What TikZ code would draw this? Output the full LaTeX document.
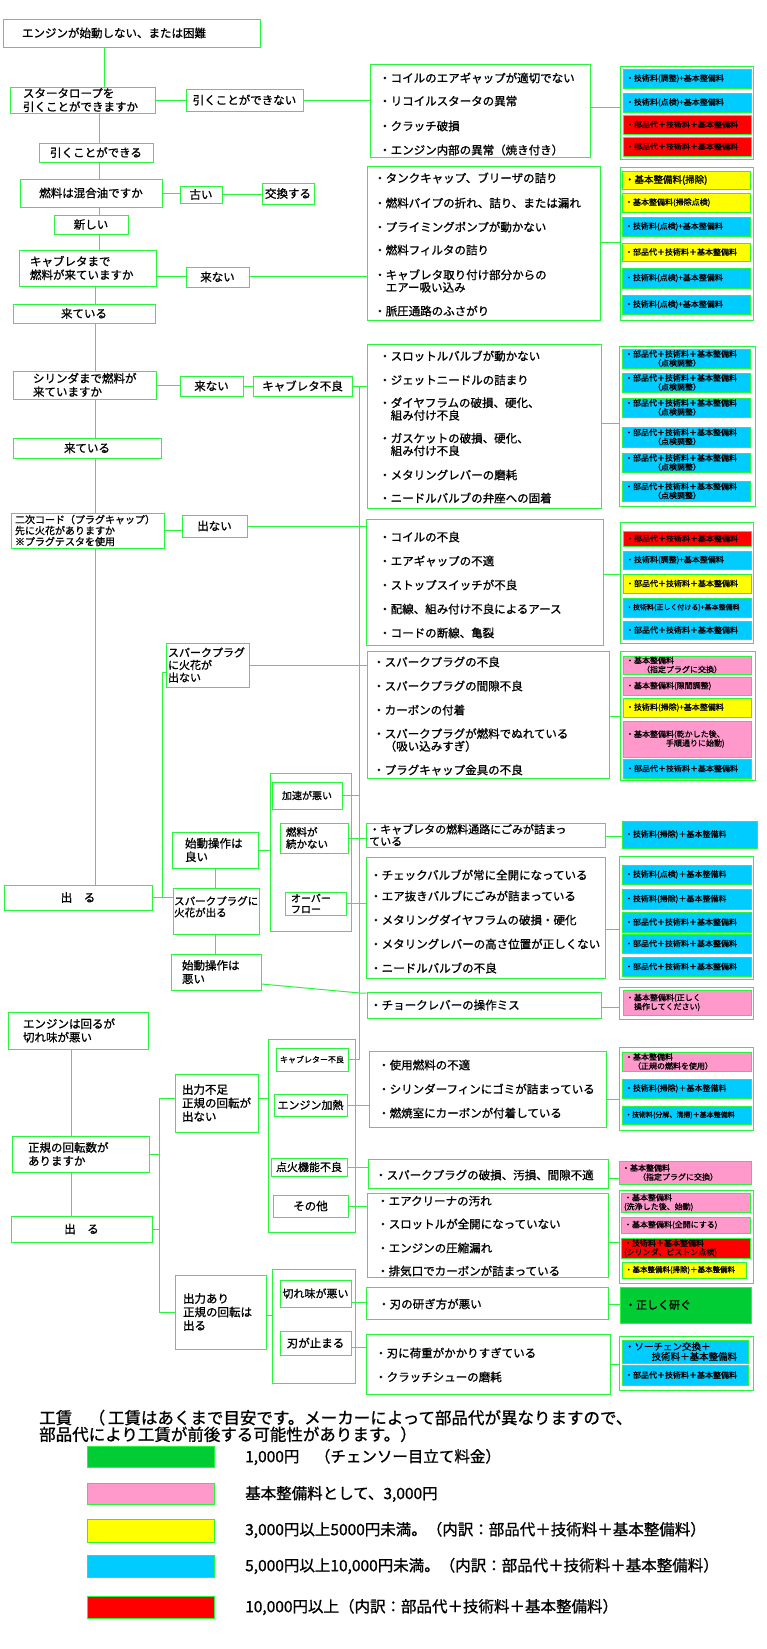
\documentclass[tikz,border=0pt]{standalone}
\usepackage{fontspec}
\setmainfont{Noto Sans CJK JP}[RawFeature={embolden=1}]
\usetikzlibrary{calc}
\definecolor{G}{RGB}{40,245,60}
\definecolor{cy}{RGB}{0,204,255}
\definecolor{rd}{RGB}{255,0,0}
\definecolor{yl}{RGB}{255,255,0}
\definecolor{pk}{RGB}{255,153,204}
\definecolor{gn}{RGB}{0,204,51}
\tikzset{
 box/.style={draw=G, line width=1pt, inner sep=0pt, align=left, font=\fontsize{11.5}{13.5}\selectfont},
 swb/.style={draw=G, line width=1pt, inner xsep=3pt, inner ysep=0pt, align=left, font=\fontsize{8}{9}\selectfont},
 itm/.style={anchor=west, inner sep=0pt, align=left, font=\fontsize{11.5}{12.5}\selectfont},
 lg/.style={anchor=west, inner sep=0pt, align=left, font=\fontsize{15.5}{16}\selectfont},
 con/.style={draw=G, line width=1pt},
}
\newcounter{tn}
\newcommand\bx[7][]{\node[box,minimum width={(#5-#3)*1pt},minimum height={(#6-#4)*1pt},#1] (#2) at ({(#3+#5)/2},{(#4+#6)/2}) {#7};}
\newcommand\lbx[8][]{\node[box,minimum height={(#6-#4)*1pt},inner xsep=#7pt,text width={(#5-#3-2*#7)*1pt},#1] (#2) at ({(#3+#5)/2},{(#4+#6)/2}) {#8};}
\newcommand\sw[8][]{\node[swb,fill=#7,minimum width={(#5-#3)*1pt},minimum height={(#6-#4)*1pt},text width={(#5-#3-6)*1pt},#1] (#2) at ({(#3+#5)/2},{(#4+#6)/2}) {#8};}
\newcommand\tx[4][]{\stepcounter{tn}\edef\tnm{t\arabic{tn}}\node[itm,#1] (\tnm) at (#2,#3) {#4};}
\newcommand\hc[3]{\draw[con] (#1.east |- 0,#3) -- (#2.west |- 0,#3);}
\begin{document}
\begin{tikzpicture}[x=1pt,y=-1pt]
\useasboundingbox (0,0) rectangle (767,1649);
\fill[white] (0,0) rectangle (767,1649);
% ---------------- top
\lbx{n1}{3}{19}{260}{47}{19}{エンジンが始動しない、または困難}
\lbx{n2}{10}{87}{155}{113}{13}{スタータロープを\\引くことができますか}
\bx{n3}{186}{89}{303}{111}{引くことができない}
\bx{it1}{370}{64}{590}{157}{}
\tx{379}{78}{・コイルのエアギャップが適切でない}
\tx{379}{101}{・リコイルスタータの異常}
\tx{379}{126}{・クラッチ破損}
\tx{379}{150}{・エンジン内部の異常（焼き付き）}
\bx{p1}{620}{66}{753}{159}{}
\sw{s1a}{623}{69}{751}{88}{cy}{・技術料(調整)+基本整備料}
\sw{s1b}{623}{93}{751}{112}{cy}{・技術料(点検)+基本整備料}
\sw{s1c}{623}{115}{751}{134}{rd}{・部品代＋技術料＋基本整備料}
\sw{s1d}{623}{137}{751}{156}{rd}{・部品代＋技術料＋基本整備料}
\bx{n5}{39}{143}{153}{162}{引くことができる}
\bx{n6}{20}{179}{162}{207}{燃料は混合油ですか}
\bx{n7}{180}{186}{222}{203}{古い}
\bx{n8}{262}{183}{314}{204}{交換する}
\bx{n9}{54}{215}{128}{234}{新しい}
\lbx{n10}{19}{250}{156}{286}{11}{キャブレタまで\\燃料が来ていますか}
\bx{n11}{186}{267}{249}{287}{来ない}
\bx{it2}{367}{166}{600}{320}{}
\tx{374}{178}{・タンクキャップ、ブリーザの詰り}
\tx{374}{203}{・燃料パイプの折れ、詰り、または漏れ}
\tx{374}{227}{・プライミングポンプが動かない}
\tx{374}{250}{・燃料フィルタの詰り}
\tx{374}{281}{・キャブレタ取り付け部分からの\\\hspace*{1em}エアー吸い込み}
\tx{374}{311}{・脈圧通路のふさがり}
\bx{p2}{620}{167}{753}{320}{}
\sw[font=\fontsize{9.5}{10}\selectfont]{s2a}{622}{171}{750}{189}{yl}{・基本整備料(掃除)}
\sw{s2b}{622}{193}{750}{212}{yl}{・基本整備料(掃除点検)}
\sw{s2c}{622}{217}{750}{236}{cy}{・技術料(点検)+基本整備料}
\sw{s2d}{622}{243}{750}{261}{yl}{・部品代＋技術料＋基本整備料}
\sw{s2e}{622}{268}{750}{288}{cy}{・技術料(点検)+基本整備料}
\sw{s2f}{622}{295}{750}{314}{cy}{・技術料(点検)+基本整備料}
\bx{n13}{13}{304}{155}{323}{来ている}
\lbx{n14}{13}{371}{156}{399}{20}{シリンダまで燃料が\\来ていますか}
\bx{n15}{180}{376}{243}{396}{来ない}
\bx{n16}{253}{376}{352}{396}{キャブレタ不良}
\bx{it3}{367}{344}{601}{508}{}
\tx{379}{356}{・スロットルバルブが動かない}
\tx{379}{380}{・ジェットニードルの詰まり}
\tx{379}{409}{・ダイヤフラムの破損、硬化、\\\hspace*{1em}組み付け不良}
\tx{379}{444.5}{・ガスケットの破損、硬化、\\\hspace*{1em}組み付け不良}
\tx{379}{475}{・メタリングレバーの磨耗}
\tx{379}{498}{・ニードルバルブの弁座への固着}
\bx{p3}{619}{346}{755}{506}{}
\sw{s3a}{622}{349}{750}{368}{cy}{・部品代＋技術料＋基本整備料\\\hspace*{3.5em}（点検調整）}
\sw{s3b}{622}{373}{750}{392}{cy}{・部品代＋技術料＋基本整備料\\\hspace*{3.5em}（点検調整）}
\sw{s3c}{622}{398}{750}{417}{cy}{・部品代＋技術料＋基本整備料\\\hspace*{3.5em}（点検調整）}
\sw{s3d}{622}{427}{750}{447}{cy}{・部品代＋技術料＋基本整備料\\\hspace*{3.5em}（点検調整）}
\sw{s3e}{622}{453}{750}{472}{cy}{・部品代＋技術料＋基本整備料\\\hspace*{3.5em}（点検調整）}
\sw{s3f}{622}{481}{750}{501}{cy}{・部品代＋技術料＋基本整備料\\\hspace*{3.5em}（点検調整）}
\bx{n17}{13}{438}{161}{458}{来ている}
\lbx[font=\fontsize{10}{11}\selectfont]{n18}{11}{513}{164}{548}{4}{二次コード（プラグキャップ）\\先に火花がありますか\\※プラグテスタを使用}
\bx{n19}{182}{515}{247}{537}{出ない}
\bx{it4}{366}{519}{603}{645}{}
\tx{379}{537}{・コイルの不良}
\tx{379}{561}{・エアギャップの不適}
\tx{379}{585}{・ストップスイッチが不良}
\tx{379}{609}{・配線、組み付け不良によるアース}
\tx{379}{633}{・コードの断線、亀裂}
\bx{p4}{620}{522}{753}{643}{}
\sw{s4a}{623}{531}{751}{546}{rd}{・部品代＋技術料＋基本整備料}
\sw{s4b}{623}{551}{751}{569}{cy}{・技術料(調整)+基本整備料}
\sw{s4c}{623}{574}{751}{593}{yl}{・部品代＋技術料＋基本整備料}
\sw[font=\fontsize{7}{8}\selectfont]{s4d}{623}{598}{751}{617}{cy}{・技術料(正しく付ける)+基本整備料}
\sw{s4e}{623}{621}{751}{639}{cy}{・部品代＋技術料＋基本整備料}
\lbx[font=\fontsize{11}{12.5}\selectfont]{n20}{166}{643}{249}{687}{2}{スパークプラグ\\に火花が\\出ない}
\bx{it5}{367}{651}{609}{778}{}
\tx{373}{662}{・スパークプラグの不良}
\tx{373}{686}{・スパークプラグの間隙不良}
\tx{373}{710}{・カーボンの付着}
\tx{373}{740}{・スパークプラグが燃料でぬれている\\\hspace*{1em}（吸い込みすぎ）}
\tx{373}{770}{・プラグキャップ金具の不良}
\bx{p5}{620}{651}{755}{780}{}
\sw{s5a}{623}{656}{751}{674}{pk}{・基本整備料\\\hspace*{2em}（指定プラグに交換）}
\sw{s5b}{623}{677}{751}{695}{pk}{・基本整備料(隙間調整)}
\sw{s5c}{623}{698}{751}{717}{yl}{・技術料(掃除)+基本整備料}
\sw{s5d}{623}{721}{751}{757}{pk}{・基本整備料(乾かした後、\\\hspace*{5em}手順通りに始動)}
\sw{s5e}{623}{759}{751}{778}{cy}{・部品代＋技術料＋基本整備料}
% ---------------- middle
\bx{n21}{4}{885}{152}{910}{出　る}
\bx{G1}{270}{773}{351}{931}{}
\bx[font=\fontsize{10}{11}\selectfont]{n22}{272}{782}{342}{809}{加速が悪い}
\lbx[font=\fontsize{10.5}{12}\selectfont]{n23}{280}{823}{348}{853}{6}{燃料が\\続かない}
\lbx[font=\fontsize{10}{11}\selectfont]{n25}{285}{892}{346}{915}{6}{オーバー\\フロー}
\lbx{n26}{172}{832}{258}{868}{13}{始動操作は\\良い}
\bx{n24}{173}{888}{259}{934}{}
\node[itm,anchor=north west,font=\fontsize{10.5}{11.5}\selectfont] (n24t) at (174,896) {スパークプラグに\\火花が出る};
\lbx{n27}{171}{954}{261}{990}{11}{始動操作は\\悪い}
\bx{it6}{366}{823}{605}{847}{}
\tx[font=\fontsize{11}{12}\selectfont]{369}{835}{・キャブレタの燃料通路にごみが詰まっ\\ている}
\sw{s6}{622}{821}{757}{848}{cy}{・技術料(掃除)＋基本整備料}
\bx{it7}{366}{857}{605}{978}{}
\tx{370}{875}{・チェックバルブが常に全開になっている}
\tx{370}{896}{・エア抜きバルブにごみが詰まっている}
\tx{370}{920}{・メタリングダイヤフラムの破損・硬化}
\tx{370}{944}{・メタリングレバーの高さ位置が正しくない}
\tx{370}{968}{・ニードルバルブの不良}
\bx{p7}{619}{856}{753}{979}{}
\sw{s7a}{622}{865}{751}{884}{cy}{・技術料(点検)＋基本整備料}
\sw{s7b}{622}{889}{751}{909}{cy}{・技術料(掃除)＋基本整備料}
\sw{s7c}{622}{912}{751}{932}{cy}{・部品代＋技術料＋基本整備料}
\sw{s7d}{622}{934}{751}{953}{cy}{・部品代＋技術料＋基本整備料}
\sw{s7e}{622}{957}{751}{976}{cy}{・部品代＋技術料＋基本整備料}
\bx{it8}{367}{992}{601}{1018}{}
\tx{370}{1005}{・チョークレバーの操作ミス}
\bx{p8}{619}{987}{753}{1019}{}
\sw{s8}{623}{990}{751}{1015}{pk}{・基本整備料(正しく\\\hspace*{1em}操作してください)}
% ---------------- bottom
\lbx{n30}{8}{1012}{148}{1049}{15}{エンジンは回るが\\切れ味が悪い}
\lbx{n31}{12}{1136}{149}{1172}{16}{正規の回転数が\\ありますか}
\bx{n32}{11}{1216}{152}{1242}{出　る}
\lbx{n33}{175}{1074}{258}{1132}{7}{出力不足\\正規の回転が\\出ない}
\bx{G2}{268}{1039}{355}{1232}{}
\bx[font=\fontsize{8}{9}\selectfont]{n34}{276}{1048}{348}{1071}{キャブレター不良}
\bx[font=\fontsize{11}{12}\selectfont]{n35}{274}{1094}{347}{1116}{エンジン加熱}
\bx[font=\fontsize{11}{12}\selectfont]{n36}{271}{1158}{347}{1176}{点火機能不良}
\bx{n37}{273}{1195}{348}{1217}{その他}
\bx{it9}{369}{1051}{606}{1127}{}
\tx{378}{1065}{・使用燃料の不適}
\tx{378}{1089}{・シリンダーフィンにゴミが詰まっている}
\tx{378}{1113}{・燃焼室にカーボンが付着している}
\bx{p9}{619}{1047}{753}{1130}{}
\sw{s9a}{622}{1052}{751}{1071}{pk}{・基本整備料\\\hspace*{1em}（正規の燃料を使用）}
\sw{s9b}{622}{1079}{751}{1098}{cy}{・技術料(掃除)＋基本整備料}
\sw[font=\fontsize{7}{8}\selectfont]{s9c}{622}{1106}{751}{1124}{cy}{・技術料(分解、清掃)＋基本整備料}
\bx{it10}{368}{1159}{608}{1188}{}
\tx{375}{1175}{・スパークプラグの破損、汚損、間隙不適}
\sw{s10}{619}{1161}{751}{1184}{pk}{・基本整備料\\\hspace*{2em}（指定プラグに交換）}
\bx{it11}{367}{1193}{608}{1277}{}
\tx{377}{1201}{・エアクリーナの汚れ}
\tx{377}{1224}{・スロットルが全開になっていない}
\tx{377}{1248}{・エンジンの圧縮漏れ}
\tx{377}{1271}{・排気口でカーボンが詰まっている}
\bx{p11}{619}{1190}{753}{1283}{}
\sw{s11a}{621}{1193}{750}{1212}{pk}{・基本整備料\\(洗浄した後、始動)}
\sw{s11b}{621}{1217}{750}{1233}{pk}{・基本整備料(全開にする)}
\sw{s11c}{621}{1238}{750}{1258}{rd}{・技術料＋基本整備料\\(シリンダ、ピストン点検)}
\sw[font=\fontsize{7.5}{8}\selectfont]{s11d}{622}{1262}{746}{1278}{yl}{・基本整備料(掃除)＋基本整備料}
\lbx{n38}{175}{1275}{266}{1349}{8}{出力あり\\正規の回転は\\出る}
\bx{G3}{272}{1269}{355}{1383}{}
\bx[font=\fontsize{11}{12}\selectfont]{n39}{280}{1280}{351}{1307}{切れ味が悪い}
\bx{n40}{280}{1331}{351}{1355}{刃が止まる}
\bx{it12}{366}{1287}{608}{1319}{}
\tx{378}{1304}{・刃の研ぎ方が悪い}
\sw[font=\fontsize{11}{12}\selectfont,inner xsep=5pt,text width=121pt]{s12}{620}{1287}{751}{1323}{gn}{・正しく研ぐ}
\bx{it13}{366}{1334}{610}{1394}{}
\tx{375}{1353}{・刃に荷重がかかりすぎている}
\tx{375}{1377}{・クラッチシューの磨耗}
\bx{p13}{619}{1336}{753}{1390}{}
\sw[font=\fontsize{9.5}{10}\selectfont]{s13a}{622}{1340}{748}{1363}{cy}{・ソーチェン交換＋\\\hspace*{2.8em}技術料＋基本整備料}
\sw{s13b}{622}{1365}{748}{1385}{cy}{・部品代＋技術料＋基本整備料}
% ---------------- legend
\node[lg,font=\fontsize{16.5}{15.5}\selectfont] (lt) at (39,1426) {工賃\hspace{1em}（\,工賃はあくまで目安です。メーカーによって部品代が異なりますので、\\部品代により工賃が前後する可能性があります。）};
\bx[fill=gn]{l1}{87}{1446}{214}{1467}{}
\node[lg] (l1t) at (245,1457) {1,000円　（チェンソー目立て料金）};
\bx[fill=pk]{l2}{87}{1483}{214}{1504}{}
\node[lg] (l2t) at (245,1494) {基本整備料として、3,000円};
\bx[fill=yl]{l3}{87}{1519}{214}{1542}{}
\node[lg] (l3t) at (245,1530) {3,000円以上5000円未満。（内訳：部品代＋技術料＋基本整備料）};
\bx[fill=cy]{l4}{87}{1555}{214}{1577}{}
\node[lg] (l4t) at (245,1566) {5,000円以上10,000円未満。（内訳：部品代＋技術料＋基本整備料）};
\bx[fill=rd]{l5}{87}{1596}{214}{1618}{}
\node[lg] (l5t) at (245,1607) {10,000円以上（内訳：部品代＋技術料＋基本整備料）};
% ---------------- connectors
\coordinate (xa) at (104,0);
\coordinate (xb) at (99,0);
\coordinate (xc) at (95,0);
\coordinate (xd) at (162,0);
\coordinate (xe) at (215,0);
\coordinate (vline) at (359,0);
\coordinate (xf) at (71,0);
\coordinate (xg) at (159,0);
\coordinate (bend) at (360,993);
\draw[con] (n1.south -| xa) -- (n2.north -| xa);
\draw[con] (n2.east) -- (n2.east -| n3.west);
\draw[con] (n3.east) -- (n3.east -| it1.west);
\hc{it1}{p1}{107}
\draw[con] (n2.south -| xb) -- (n5.north -| xb);
\draw[con] (n5.south -| xb) -- (n6.north -| xb);
\draw[con] (n6.east) -- (n6.east -| n7.west);
\draw[con] (n7.east) -- (n7.east -| n8.west);
\draw[con] (n6.south -| xb) -- (n9.north -| xb);
\draw[con] (n9.south -| xb) -- (n10.north -| xb);
\hc{n10}{n11}{276}
\hc{n11}{it2}{276}
\hc{it2}{p2}{242}
\draw[con] (n10.south -| xc) -- (n13.north -| xc);
\draw[con] (n13.south -| xc) -- (n14.north -| xc);
\draw[con] (n14.east) -- (n14.east -| n15.west);
\draw[con] (n15.east) -- (n15.east -| n16.west);
\draw[con] (n16.east) -- (n16.east -| it3.west);
\draw[con] (n16.east) -| (vline |- n34.east) -- (n34.east);
\hc{it3}{p3}{423}
\draw[con] (n14.south -| xc) -- (n17.north -| xc);
\draw[con] (n17.south -| xc) -- (n18.north -| xc);
\draw[con] (n18.east) -- (n18.east -| n19.west);
\draw[con] (n19.east) -- (n19.east -| it4.west);
\hc{it4}{p4}{574}
\draw[con] (n18.south -| xc) -- (n21.north -| xc);
\draw[con] (n20.east) -- (n20.east -| it5.west);
\hc{it5}{p5}{716}
\draw[con] (n20.west |- 0,672) -| (n21.east -| xd);
\draw[con] (n21.east) -- (n21.east -| n24.west);
\draw[con] (n26.south -| xe) -- (n24.north -| xe);
\draw[con] (n24.south -| xe) -- (n27.north -| xe);
\draw[con] (n26.east) -- (n26.east -| G1.west);
\draw[con] (n22.east) -- (n22.east -| vline);
\draw[con] (n23.east) -- (n23.east -| it6.west);
\draw[con] (n25.east) -- (n25.east -| it7.west);
\hc{it6}{s6}{836}
\hc{it7}{p7}{929}
\draw[con] (n27.east |- 0,984) -- (bend) -- (bend -| it8.west);
\hc{it8}{p8}{1007}
\draw[con] (n30.south -| xf) -- (n31.north -| xf);
\draw[con] (n31.south -| xf) -- (n32.north -| xf);
\draw[con] (n31.east) -- (n31.east -| xg);
\draw[con] (n32.east) -- (n32.east -| xg);
\draw[con] (n33.west |- 0,1098) -| (xg |- 0,1312) -- (n38.west |- 0,1312);
\hc{n33}{G2}{1098}
\draw[con] (n35.east) -- (n35.east -| it9.west);
\draw[con] (n36.east) -- (n36.east -| it10.west);
\draw[con] (n37.east) -- (n37.east -| it11.west);
\hc{it9}{p9}{1099}
\hc{it10}{s10}{1178}
\hc{it11}{p11}{1242}
\hc{n38}{G3}{1315}
\hc{n39}{it12}{1302}
\hc{n40}{it13}{1347}
\hc{it12}{s12}{1304}
\hc{it13}{p13}{1364}
\end{tikzpicture}
\end{document}
